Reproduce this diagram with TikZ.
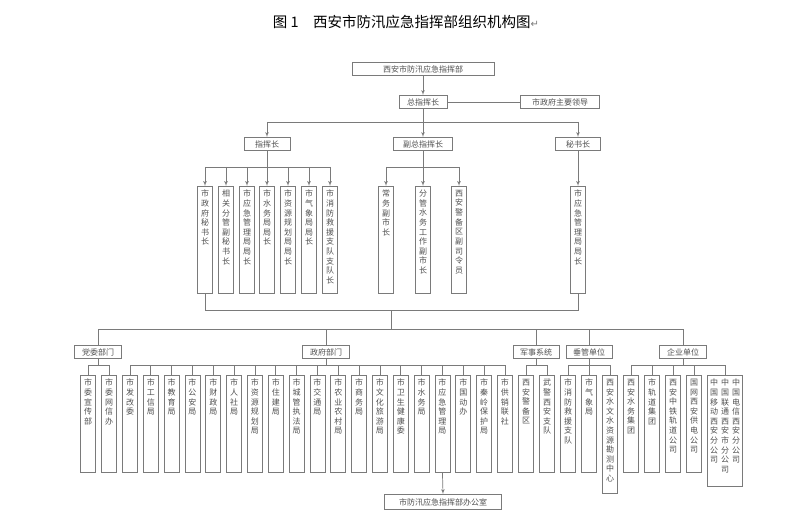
\documentclass[tikz,border=0pt]{standalone}
\usepackage{fontspec}
\newfontfamily\cjk{Noto Sans CJK SC}
\newfontfamily\djv{DejaVu Sans}
\usetikzlibrary{arrows,positioning}
\XeTeXlinebreaklocale "zh"
\XeTeXlinebreakskip=0pt plus 1pt
\definecolor{ln}{HTML}{7A7A7A}
\definecolor{tx}{HTML}{505050}
\tikzstyle{line} = [draw=ln, line width=0.7pt]
\tikzstyle{arr} = [line, -latex']
\tikzstyle{hbox} = [rectangle, draw=ln, line width=0.7pt, text=tx, inner sep=1pt, minimum height=13pt, font=\cjk\fontsize{8}{9}\selectfont]
\tikzstyle{vbox} = [rectangle, draw=ln, line width=0.7pt, anchor=north, minimum width=15pt, inner sep=0pt]
\tikzstyle{vtext} = [anchor=north, yshift=-4pt, text=tx, text width=8pt, align=center, inner sep=0pt, font=\cjk\fontsize{8}{9.6}\selectfont]
% vertical box: name, x, top, height, text
\newcommand{\vcol}[5]{\node[vbox, minimum height=#4] (#1) at (#2,#3) {};
  \node[vtext] at (#1.north) {#5};}

\begin{document}
\begin{tikzpicture}[x=1pt, y=-1pt]
  \useasboundingbox (0,0) rectangle (800,513);
  \node[font=\cjk\fontsize{14.5}{16}\selectfont] (title) at (406,22) {图 1\quad 西安市防汛应急指挥部组织机构图{\djv\color{ln}\fontsize{10}{11}\selectfont ↵}};

  % top levels
  \node[hbox, minimum width=142pt] (hq) at (423,69) {西安市防汛应急指挥部};
  \node[hbox, minimum width=48pt] (zong) at (423,102) {总指挥长};
  \node[hbox, minimum width=79pt] (lead) at (560,102) {市政府主要领导};
  \node[hbox, minimum width=46pt] (zhi) at (267,144) {指挥长};
  \node[hbox, minimum width=59pt] (fu) at (423,144) {副总指挥长};
  \node[hbox, minimum width=45pt] (mi) at (578,144) {秘书长};
  \coordinate (a0) at (0,122);
  \coordinate (a1) at (0,167);
  \coordinate (a2) at (0,310);
  \coordinate (a3) at (0,329);
  \coordinate (a4) at (0,365);

  \draw[arr] (hq) -- (zong);
  \draw[line] (zong) -- (lead);
  \draw[arr] (zong) -- (fu);
  \draw[arr] (zhi.north |- a0) -- (zhi.north);
  \draw[arr] (mi.north |- a0) -- (mi.north);
  \draw[line] (zhi.north |- a0) -- (mi.north |- a0);

  % leaders
  \foreach \x/\t [count=\i] in {205/市政府秘书长, 226/相关分管副秘书长, 247/市应急管理局局长, 267/市水务局局长, 288/市资源规划局局长, 309/市气象局局长, 330/市消防救援支队支队长}
    {\vcol{c\i}{\x}{186}{107pt}{\t}
     \draw[arr] (c\i.north |- a1) -- (c\i.north);}
  \draw[line] (c1.north |- a1) -- (c7.north |- a1);
  \draw[line] (zhi) -- (zhi.south |- a1);
  \foreach \x/\t [count=\i] in {386/常务副市长, 423/分管水务工作副市长, 459/西安警备区副司令员}
    {\vcol{d\i}{\x}{186}{107pt}{\t}
     \draw[arr] (d\i.north |- a1) -- (d\i.north);}
  \draw[line] (d1.north |- a1) -- (d3.north |- a1);
  \draw[line] (fu) -- (fu.south |- a1);
  \vcol{s1}{578}{186}{107pt}{市应急管理局局长}
  \draw[arr] (mi) -- (s1);

  % member units
  \draw[line] (c1.south) -- (c1.south |- a2) -| (s1.south);
  \coordinate (m2) at (391,310);
  \draw[line] (m2) -- (m2 |- a3);
  \node[hbox, minimum width=47pt] (dang) at (98,352) {党委部门};
  \node[hbox, minimum width=47pt] (gov) at (326,352) {政府部门};
  \node[hbox, minimum width=46pt] (jun) at (536,352) {军事系统};
  \node[hbox, minimum width=46pt] (chui) at (589,352) {垂管单位};
  \node[hbox, minimum width=47pt] (qiye) at (683,352) {企业单位};
  \draw[line] (dang.north |- a3) -- (qiye.north |- a3);
  \foreach \n in {dang, gov, jun, chui, qiye}
    {\draw[line] (\n.north |- a3) -- (\n.north);
     \draw[line] (\n.south) -- (\n.south |- a4);}

  \foreach \x/\t [count=\i] in {88/市委宣传部, 109/市委网信办}
    {\vcol{p\i}{\x}{375}{97pt}{\t}
     \draw[line] (p\i.north |- a4) -- (p\i.north);}
  \draw[line] (p1.north |- a4) -- (p2.north |- a4);

  \foreach \t [count=\i, evaluate=\i as \x using 130+20.83*(\i-1)] in {市发改委, 市工信局, 市教育局, 市公安局, 市财政局, 市人社局, 市资源规划局, 市住建局, 市城管执法局, 市交通局, 市农业农村局, 市商务局, 市文化旅游局, 市卫生健康委, 市水务局, 市应急管理局, 市国动办, 市秦岭保护局, 市供销联社}
    {\vcol{g\i}{\x}{375}{97pt}{\t}
     \draw[line] (g\i.north |- a4) -- (g\i.north);}
  \draw[line] (g1.north |- a4) -- (g19.north |- a4);

  \foreach \x/\t [count=\i] in {526/西安警备区, 547/武警西安支队}
    {\vcol{j\i}{\x}{375}{97pt}{\t}
     \draw[line] (j\i.north |- a4) -- (j\i.north);}
  \draw[line] (j1.north |- a4) -- (j2.north |- a4);

  \vcol{v1}{568}{375}{97pt}{市消防救援支队}
  \vcol{v2}{589}{375}{97pt}{市气象局}
  \vcol{v3}{610}{375}{118pt}{西安水文水资源勘测中心}
  \foreach \i in {1,2,3}
    {\draw[line] (v\i.north |- a4) -- (v\i.north);}
  \draw[line] (v1.north |- a4) -- (v3.north |- a4);

  \foreach \x/\t [count=\i] in {631/西安水务集团, 652/市轨道集团, 673/西安中铁轨道公司, 694/国网西安供电公司}
    {\vcol{e\i}{\x}{375}{97pt}{\t}
     \draw[line] (e\i.north |- a4) -- (e\i.north);}
  \node[vbox, minimum width=35pt, minimum height=111pt] (e5) at (725,375) {};
  \node[vtext] at ([xshift=-11pt]e5.north) {中国移动西安分公司};
  \node[vtext] at ([xshift=0pt]e5.north) {中国联通西安市分公司};
  \node[vtext] at ([xshift=11pt]e5.north) {中国电信西安分公司};
  \draw[line] (e5.north |- a4) -- (e5.north);
  \draw[line] (e1.north |- a4) -- (e5.north |- a4);

  \node[hbox, minimum width=117pt, minimum height=15pt] (office) at (443,502) {市防汛应急指挥部办公室};
  \draw[arr] (g16.south) -- (office.north);
\end{tikzpicture}
\end{document}
